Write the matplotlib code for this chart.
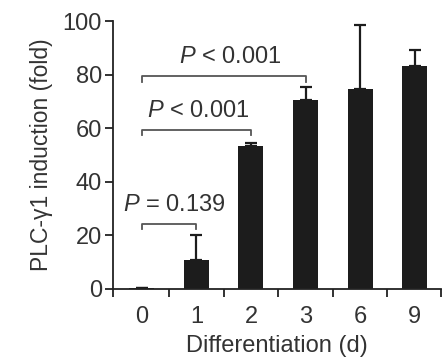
import matplotlib
matplotlib.use("Agg")
import matplotlib.pyplot as plt
import numpy as np

categories = ["0", "1", "2", "3", "6", "9"]
values = [0.5, 10.8, 53.2, 70.4, 74.8, 83.1]
err_up = [0.0, 9.2, 1.3, 5.0, 23.8, 6.3]
yticks = [0, 20, 40, 60, 80, 100]
comparisons = [(0, 1, 24.4, "$P$ = 0.139"), (0, 2, 59.5, "$P$ < 0.001"), (0, 3, 79.4, "$P$ < 0.001")]
text_x = [0.6, 1.03, 1.63]

plt.rcParams['font.family'] = ['Liberation Sans', 'DejaVu Sans']
plt.rcParams['mathtext.fontset'] = 'custom'
plt.rcParams['mathtext.it'] = 'Liberation Sans:italic'
plt.rcParams['mathtext.rm'] = 'Liberation Sans'

fs = 17
fig = plt.figure(figsize=(4.48, 3.58), dpi=100)
ax = fig.add_axes([0.252, 0.193, 0.732, 0.748])
x = np.arange(len(categories))
ax.bar(x, values, width=0.46, color='#1c1c1c', zorder=2)
ax.errorbar(x, values, yerr=[np.zeros(len(err_up)), err_up], fmt='none', ecolor='#1c1c1c',
            elinewidth=1.6, capsize=4, capthick=1.6, zorder=1)

tc = '#333333'
for (i, j, yb, txt), tx in zip(comparisons, text_x):
    ax.plot([x[i], x[i], x[j], x[j]], [yb - 2.2, yb, yb, yb - 2.2], color='#555555', lw=1.3)
    ax.text(tx, yb + 3.0, txt, ha='center', va='bottom', fontsize=fs, color=tc)

ax.set_xlim(-0.53, 5.48)
ax.set_ylim(0, 100)
ax.set_yticks(yticks)
ax.set_xticks(x)
ax.set_xticklabels(categories)
ax.set_xticks([-0.53, 0.5, 1.5, 2.5, 3.5, 4.5, 5.48], minor=True)
ax.tick_params(axis='x', which='major', length=0, pad=12, labelsize=fs, labelcolor=tc)
ax.tick_params(axis='x', which='minor', length=6, width=1.3, direction='out', color='#222222')
ax.tick_params(axis='y', length=6, width=1.3, labelsize=fs, labelcolor=tc, color='#222222', pad=2)
for s in ['top', 'right']:
    ax.spines[s].set_visible(False)
for s in ['left', 'bottom']:
    ax.spines[s].set_linewidth(1.3)
    ax.spines[s].set_color('#222222')
ax.set_xlabel("Differentiation (d)", fontsize=fs, color=tc, labelpad=5)
ax.set_ylabel("PLC-γ1 induction (fold)", fontsize=16.5, color=tc, labelpad=7)
fig.savefig("out.png", dpi=100)
